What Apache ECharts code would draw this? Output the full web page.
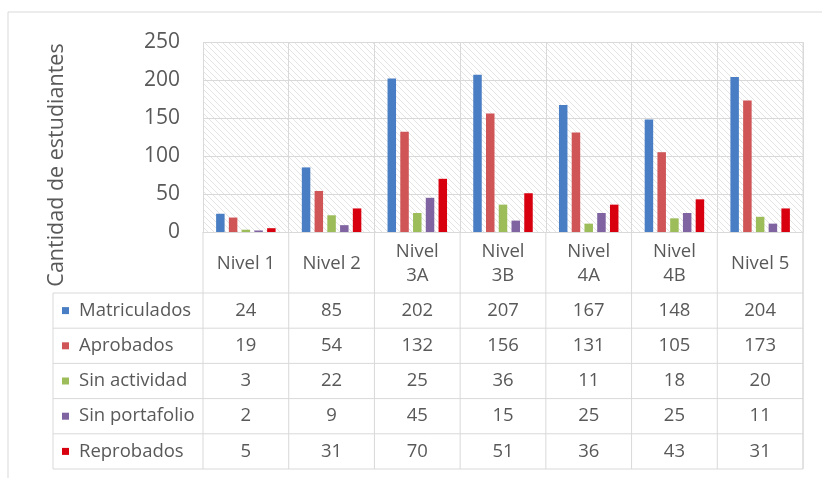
<!DOCTYPE html>
<html>
<head>
<meta charset="utf-8">
<script src="https://cdn.jsdelivr.net/npm/echarts@6/dist/echarts.min.js"></script>
<style>
  html, body { margin: 0; padding: 0; background: #fff; }
  #main { width: 822px; height: 478px; }
</style>
</head>
<body>
<div id="main"></div>
<script>
var categories = ['Nivel 1', 'Nivel 2', 'Nivel 3A', 'Nivel 3B', 'Nivel 4A', 'Nivel 4B', 'Nivel 5'];
var seriesNames = ['Matriculados', 'Aprobados', 'Sin actividad', 'Sin portafolio', 'Reprobados'];
var matriculados = [24, 85, 202, 207, 167, 148, 204];
var aprobados = [19, 54, 132, 156, 131, 105, 173];
var sinActividad = [3, 22, 25, 36, 11, 18, 20];
var sinPortafolio = [2, 9, 45, 15, 25, 25, 11];
var reprobados = [5, 31, 70, 51, 36, 43, 31];
var yTicks = [0, 50, 100, 150, 200, 250];

var seriesData = [matriculados, aprobados, sinActividad, sinPortafolio, reprobados];
var colors = ['#4A7EC4', '#CF5557', '#9CBD5A', '#8064A2', '#D8000F'];

var chartDom = document.getElementById('main');
var myChart = echarts.init(chartDom);

// hatch pattern for plot background
var hatch = document.createElement('canvas');
hatch.width = 6;
hatch.height = 6;
var hc = hatch.getContext('2d');
hc.fillStyle = '#ffffff';
hc.fillRect(0, 0, 6, 6);
hc.strokeStyle = '#e4e4e4';
hc.lineWidth = 1;
hc.beginPath();
hc.moveTo(-1, -1); hc.lineTo(7, 7);
hc.moveTo(-4, 2); hc.lineTo(4, 10);
hc.moveTo(2, -4); hc.lineTo(10, 4);
hc.stroke();

var plotL = 203, plotR = 803, plotT = 42, plotB = 232;
var colW = (plotR - plotL) / categories.length;
var headerB = 293;
var rowH = 35.2;
var tableL = 53;
var lineColor = '#d9d9d9';
var textColor = '#595959';
var font = '"Open Sans", sans-serif';

var graphics = [];
function line(x1, y1, x2, y2) {
  graphics.push({
    type: 'line', silent: true,
    shape: { x1: x1, y1: y1, x2: x2, y2: y2 },
    style: { stroke: lineColor, lineWidth: 1 }
  });
}
function txt(x, y, s, align, size) {
  graphics.push({
    type: 'text', silent: true, x: x, y: y,
    style: {
      text: s, fill: textColor, font: (size || 18.5) + 'px ' + font,
      align: align || 'center', verticalAlign: 'middle', lineHeight: 24
    }
  });
}

// outer frame
line(8, 12, 822, 12);
line(8, 12, 8, 478);

// table lines
var tableB = headerB + rowH * seriesNames.length;
line(plotR, plotT, plotR, tableB);
for (var c = 0; c <= categories.length; c++) {
  line(plotL + c * colW, plotB, plotL + c * colW, tableB);
}
line(tableL, headerB, tableL, tableB);
for (var r = 0; r <= seriesNames.length; r++) {
  line(tableL, headerB + r * rowH, plotR, headerB + r * rowH);
}

// header
categories.forEach(function (cat, i) {
  var label = cat.length > 7 ? cat.replace(' ', '\n') : cat;
  txt(plotL + (i + 0.5) * colW, (plotB + headerB) / 2 + 1, label, 'center');
});

// rows
seriesNames.forEach(function (name, r) {
  var cy = headerB + (r + 0.5) * rowH;
  graphics.push({
    type: 'rect', silent: true,
    shape: { x: 62, y: cy - 3.5, width: 7, height: 7 },
    style: { fill: colors[r] }
  });
  txt(79, cy, name, 'left');
  seriesData[r].forEach(function (v, i) {
    txt(plotL + (i + 0.5) * colW, cy, String(v), 'center');
  });
});

// y axis title
graphics.push({
  type: 'text', silent: true, x: 57, y: 165, rotation: Math.PI / 2,
  style: {
    text: 'Cantidad de estudiantes', fill: textColor, font: '21.5px ' + font,
    align: 'center', verticalAlign: 'middle'
  }
});

var option = {
  animation: false,
  grid: {
    left: plotL, right: 822 - plotR, top: plotT, bottom: 478 - plotB,
    show: true,
    backgroundColor: { image: hatch, repeat: 'repeat' },
    borderWidth: 0
  },
  xAxis: {
    type: 'category',
    data: categories,
    axisLabel: { show: false },
    axisTick: { show: false },
    axisLine: { lineStyle: { color: lineColor } },
    splitLine: { show: true, interval: 0, lineStyle: { color: lineColor } }
  },
  yAxis: {
    type: 'value',
    min: yTicks[0],
    max: yTicks[yTicks.length - 1],
    interval: 50,
    axisLabel: { color: textColor, fontSize: 21, fontFamily: font, margin: 23 },
    axisLine: { show: false },
    axisTick: { show: false },
    splitLine: { lineStyle: { color: lineColor } }
  },
  series: seriesNames.map(function (name, i) {
    return {
      name: name,
      type: 'bar',
      data: seriesData[i],
      barWidth: 8.5,
      barGap: '50%',
      itemStyle: { color: colors[i] }
    };
  }),
  graphic: graphics
};

option && myChart.setOption(option);
</script>
</body>
</html>
